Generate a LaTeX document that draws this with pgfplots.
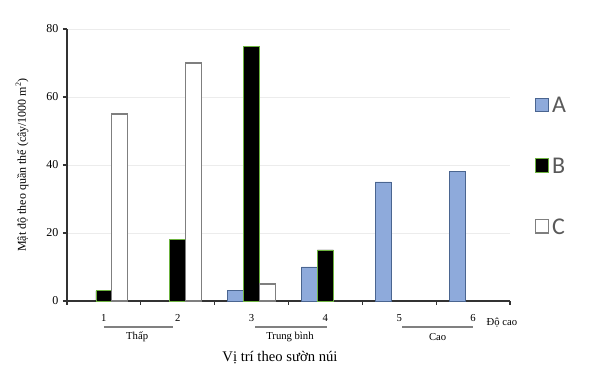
\documentclass[border=0pt]{standalone}
\usepackage{pgfplots}
\pgfplotsset{compat=1.18}
\usepackage{fontspec}
\setmainfont{Liberation Serif}
\newfontfamily\legendfont{Carlito}
\definecolor{barA}{HTML}{8EAADB}
\definecolor{barAedge}{HTML}{4A6590}
\definecolor{barBedge}{HTML}{6DB33F}
\definecolor{barCedge}{HTML}{7F7F7F}
\begin{document}
\begin{tikzpicture}
\begin{axis}[
 scale only axis, width=332.25pt, height=204pt,
 at={(0pt,0pt)}, anchor=south west,
 ybar=0pt, bar width=12pt,
 xmin=0.5, xmax=6.5, ymin=0, ymax=80,
 axis x line*=bottom, axis y line*=left,
 axis line style={line width=1.1pt, black!80},
 xtick={1,...,6}, xticklabels={1,2,3,4,5,6},
 major x tick style={draw=none},
 minor xtick={0.5,1.5,...,6.5},
 minor tick length=3pt,
 x tick label style={font=\fontsize{8}{9}\selectfont, yshift=-3.5pt},
 ytick={0,20,...,80},
 y tick label style={font=\fontsize{9}{10}\selectfont},
 tick align=outside, major tick length=3pt,
 tick style={black!80, line width=0.8pt},
 ymajorgrids, grid style={gray!15, line width=0.6pt},
 /pgf/number format/assume math mode=true,
 ylabel={Mật độ theo quần thể (cây/1000 m\textsuperscript{2})},
 ylabel style={font=\fontsize{9}{10}\selectfont, at={(rel axis cs:-0.1016,0.5)}, anchor=center},
 clip=false,
 legend style={at={(rel axis cs:1.047,0.77)}, anchor=north west, draw=none, fill=none,
   font=\legendfont\fontsize{18}{20}\selectfont, text=black!65, row sep=28.5pt,
   /tikz/every even column/.append style={column sep=3.5pt}},
 legend cell align=left,
 legend image code/.code={\draw[#1, line width=0.8pt] (0pt,-4.2pt) rectangle (10pt,5.8pt);},
]
\addplot[fill=barA, draw=barAedge, line width=0.6pt] coordinates {(3,3) (4,10) (5,35) (6,38)};
\addplot[fill=black, draw=barBedge, line width=0.5pt] coordinates {(1,3) (2,18) (3,75) (4,15)};
\addplot[fill=white, draw=barCedge, line width=0.8pt] coordinates {(1,55) (2,70) (3,5)};
\legend{A,B,C}
\draw[gray, line width=0.8pt] ([yshift=-19.5pt]axis cs:1,0) -- ([yshift=-19.5pt]axis cs:1.93,0);
\draw[gray, line width=0.8pt] ([yshift=-19.5pt]axis cs:3.05,0) -- ([yshift=-19.5pt]axis cs:4.02,0);
\draw[gray, line width=0.8pt] ([yshift=-19.5pt]axis cs:5.04,0) -- ([yshift=-19.5pt]axis cs:6.0,0);
\node[font=\fontsize{8}{9}\selectfont] at ([yshift=-27pt]axis cs:1.45,0) {Thấp};
\node[font=\fontsize{8}{9}\selectfont] at ([yshift=-27pt]axis cs:3.52,0) {Trung bình};
\node[font=\fontsize{8}{9}\selectfont] at ([yshift=-27pt]axis cs:5.52,0) {Cao};
\node[font=\fontsize{8}{9}\selectfont] at ([yshift=-16.5pt]axis cs:6.39,0) {Độ cao};
\node[font=\fontsize{11}{12}\selectfont] at ([yshift=-42.75pt]axis cs:3.385,0) {Vị trí theo sườn núi};
\end{axis}
\pgfresetboundingbox
\useasboundingbox (-50.25pt,-51.75pt) rectangle (397.5pt,225.75pt);
\end{tikzpicture}
\end{document}
